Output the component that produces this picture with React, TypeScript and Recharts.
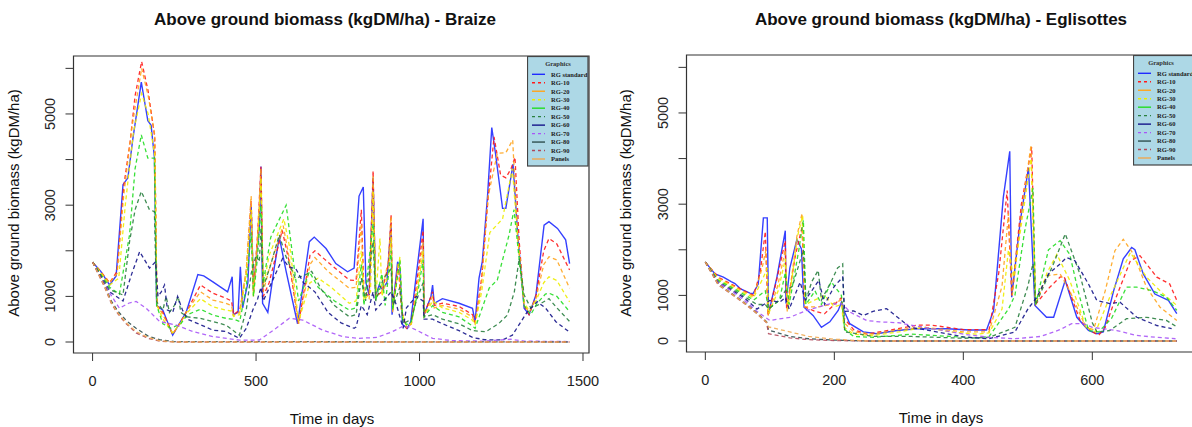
import { LineChart, Line, XAxis, YAxis, ReferenceArea } from "recharts";

type Pt = [number, number];

const seriesNames = ["RG standard", "RG-10", "RG-20", "RG-30", "RG-40", "RG-50", "RG-60", "RG-70", "RG-80", "RG-90", "Panels"];
const seriesColors = ["#1f2bff", "#ff1a1a", "#ffa41c", "#eded00", "#22dd22", "#2a8040", "#15158a", "#a855f7", "#2f4f4f", "#b0485a", "#f0a850"];
const plotDashed = [false, true, true, true, true, true, true, true, true, true, true];
const legendDashed = [false, true, false, true, false, true, false, true, false, true, false];

const braizeTicksX = [0, 500, 1000, 1500];
const egliTicksX = [0, 200, 400, 600];
const yTicks = [0, 1000, 2000, 3000, 4000, 5000, 6000];
const yLabelled = [0, 1000, 3000, 5000];

// Braize, 4 years
const braizeStd: Pt[] = [[0,1750],[25,1550],[52,1250],[72,1450],[93,3450],[108,3600],[123,4450],[149,5700],[169,4850],[179,4750],[189,4050],[196,800],[215,700],[245,150],[265,400],[286,650],[322,1480],[340,1450],[368,1320],[413,1100],[427,1430],[431,600],[445,650],[452,1650],[459,750],[475,1300],[485,3000],[492,1200],[510,2500],[515,3850],[520,850],[536,650],[555,1600],[571,2300],[592,1550],[627,400],[663,2200],[678,2300],[714,2050],[744,1720],[780,1540],[800,1620],[815,3200],[828,3400],[836,1300],[846,1030],[858,3600],[866,1030],[877,1250],[887,1150],[900,1300],[913,2600],[916,600],[933,1760],[940,1640],[948,380],[963,300],[973,450],[994,1700],[1011,2700],[1014,600],[1035,1000],[1040,1250],[1045,850],[1070,950],[1121,850],[1162,740],[1170,450],[1182,1400],[1192,1760],[1208,3200],[1221,4700],[1233,4100],[1254,2930],[1264,2930],[1286,3900],[1300,2400],[1320,740],[1335,600],[1356,1030],[1381,2560],[1396,2640],[1422,2490],[1447,2240],[1459,1720]];
const braizeRg10: Pt[] = [[0,1750],[30,1500],[52,1300],[75,1550],[95,3400],[115,4400],[130,5400],[150,6150],[170,5500],[190,4500],[197,800],[215,650],[245,170],[270,450],[290,700],[330,1250],[368,1070],[408,960],[425,900],[431,600],[450,700],[470,1500],[485,3100],[492,1100],[505,2400],[515,3850],[522,1000],[540,1300],[580,2450],[600,1800],[630,400],[665,1900],[680,2000],[720,1750],[785,1360],[806,1350],[822,2900],[830,1100],[846,1000],[858,3750],[866,1000],[885,1100],[905,1700],[913,2800],[918,700],[935,1700],[945,700],[960,300],[975,400],[995,1500],[1011,2450],[1014,600],[1040,1100],[1045,800],[1070,850],[1121,780],[1162,600],[1170,420],[1190,1400],[1208,3000],[1228,4500],[1248,3660],[1264,3600],[1280,3800],[1292,4050],[1305,2200],[1320,800],[1335,600],[1356,1000],[1380,2000],[1396,2270],[1420,2150],[1459,1580]];
const braizeRg20: Pt[] = [[0,1750],[52,1300],[75,1500],[95,3200],[120,4700],[150,6000],[170,5400],[190,4550],[197,800],[215,600],[245,180],[270,430],[290,700],[330,1100],[368,920],[408,850],[425,800],[431,580],[450,650],[470,1600],[485,3200],[492,1000],[505,2300],[515,3800],[522,1100],[540,1600],[583,2550],[600,1900],[630,400],[665,1700],[680,1850],[720,1550],[785,1180],[806,1200],[822,2600],[830,1000],[846,950],[858,3650],[866,1000],[885,1100],[905,1800],[913,2750],[918,650],[935,1750],[945,650],[960,320],[975,400],[995,1300],[1011,2200],[1014,580],[1040,1000],[1045,750],[1070,800],[1121,720],[1162,550],[1170,400],[1190,1300],[1210,3200],[1238,4140],[1264,4150],[1285,4430],[1300,2300],[1320,820],[1335,650],[1356,950],[1380,1700],[1396,1870],[1420,1800],[1459,1180]];
const braizeRg30: Pt[] = [[0,1750],[52,1250],[80,1400],[100,3000],[125,4600],[150,5450],[170,5000],[190,4100],[197,800],[215,500],[245,200],[270,420],[290,650],[330,950],[368,770],[408,700],[425,680],[431,560],[450,600],[470,1500],[485,2900],[492,1000],[505,2200],[515,3600],[522,1200],[540,1900],[585,2700],[605,2000],[630,450],[665,1300],[690,1400],[730,1200],[785,850],[806,900],[822,2000],[830,900],[850,1100],[858,3300],[866,950],[879,2270],[885,1000],[905,1500],[913,2300],[918,700],[940,1870],[948,600],[960,350],[975,400],[995,1200],[1011,2000],[1014,560],[1040,900],[1070,750],[1121,650],[1162,480],[1170,380],[1190,1100],[1215,2400],[1254,2700],[1284,3800],[1300,2300],[1320,850],[1335,700],[1356,900],[1380,1300],[1396,1430],[1420,1350],[1459,880]];
const braizeRg40: Pt[] = [[0,1750],[52,1200],[82,1050],[113,2350],[130,3800],[149,4540],[169,4030],[189,4030],[196,800],[215,400],[240,300],[270,400],[290,600],[330,720],[368,590],[408,520],[425,500],[431,500],[450,450],[470,1200],[485,2400],[492,1000],[505,1900],[515,3000],[522,1300],[545,2300],[592,3000],[610,2000],[630,900],[663,1540],[690,1200],[740,900],[785,700],[806,750],[822,1700],[830,800],[858,2600],[866,900],[885,1500],[895,800],[913,2000],[918,700],[940,1800],[948,500],[960,380],[975,450],[995,1100],[1011,1800],[1014,550],[1040,800],[1070,650],[1121,550],[1162,350],[1170,300],[1213,1180],[1238,1360],[1274,2350],[1289,2900],[1305,1800],[1320,800],[1340,600],[1360,850],[1385,1050],[1396,1070],[1420,1000],[1459,665]];
const braizeRg50: Pt[] = [[0,1750],[52,1150],[93,1030],[113,2200],[130,2900],[149,3300],[174,2900],[189,2860],[196,880],[215,700],[225,1000],[235,650],[250,800],[262,1000],[270,650],[290,550],[330,520],[368,450],[408,370],[449,150],[470,700],[485,1500],[500,1900],[510,1760],[515,2500],[522,1200],[545,1700],[571,2350],[590,1900],[620,1400],[645,1450],[670,1550],[700,1150],[740,800],[785,555],[806,600],[822,1400],[835,900],[858,2200],[866,900],[890,1400],[913,1600],[920,800],[940,1200],[950,400],[975,500],[990,900],[1011,1300],[1014,550],[1040,600],[1070,500],[1121,400],[1162,250],[1203,226],[1243,409],[1269,592],[1290,1100],[1305,1835],[1320,1031],[1340,750],[1360,800],[1396,950],[1420,750],[1459,450]];
const braizeRg60: Pt[] = [[0,1750],[52,1100],[93,900],[120,1500],[144,1980],[174,1620],[193,1760],[200,1000],[210,1100],[220,1250],[229,700],[245,650],[260,1000],[275,700],[290,500],[330,380],[368,260],[408,230],[449,80],[470,300],[490,700],[505,950],[515,1200],[522,900],[560,1500],[581,1830],[600,1650],[622,1600],[645,1300],[680,1100],[720,650],[760,420],[800,300],[806,330],[822,800],[840,600],[858,1100],[866,700],[890,900],[913,1100],[930,800],[950,300],[960,750],[990,1000],[1011,900],[1014,500],[1040,500],[1070,400],[1121,250],[1162,100],[1200,50],[1254,44],[1284,150],[1330,665],[1360,884],[1386,740],[1417,446],[1457,226]];
const braizeRg70: Pt[] = [[0,1750],[50,1100],[82,740],[110,850],[133,890],[164,740],[205,450],[256,370],[306,230],[368,120],[450,40],[510,44],[561,300],[602,520],[643,480],[704,260],[765,120],[810,80],[870,100],[918,230],[948,340],[970,330],[999,230],[1040,80],[1100,30],[1200,20],[1280,60],[1320,20],[1459,10]];
const braizeRg80: Pt[] = [[0,1750],[37,1250],[57,900],[77,680],[103,470],[133,300],[170,130],[205,50],[250,10],[1459,0]];
const braizeRg90: Pt[] = [[0,1750],[37,1200],[57,850],[77,620],[103,400],[133,200],[170,80],[205,20],[250,0],[1459,0]];
const braizePanels: Pt[] = [[0,1750],[37,1220],[57,870],[77,640],[103,420],[133,230],[170,100],[205,30],[250,0],[1459,0]];

// Eglisottes, 2 years
const egliStd: Pt[] = [[0,1730],[15,1470],[28,1400],[40,1300],[46,1260],[54,1150],[69,1050],[74,1040],[82,1250],[90,2700],[96,2700],[98,600],[111,1400],[124,2420],[125,820],[131,1600],[142,2230],[149,2020],[153,740],[167,560],[180,300],[193,420],[206,670],[211,850],[214,700],[224,380],[245,200],[266,160],[297,230],[328,270],[375,270],[410,240],[436,240],[447,670],[462,3150],[472,4160],[475,960],[488,2600],[501,3800],[511,780],[529,520],[540,520],[558,1330],[576,520],[594,230],[607,160],[617,200],[633,1100],[648,1800],[661,2050],[666,2000],[679,1470],[697,1030],[718,890],[731,600]];
const egliRg10: Pt[] = [[0,1730],[20,1400],[40,1250],[60,1100],[75,1000],[85,1500],[93,2400],[97,550],[110,1300],[124,2200],[126,700],[140,1900],[150,2500],[154,750],[170,650],[185,600],[200,800],[211,950],[215,500],[230,250],[250,150],[290,250],[330,350],[350,350],[400,250],[440,250],[455,1500],[468,3300],[475,1000],[490,3000],[506,4250],[512,800],[521,960],[534,1180],[550,1400],[556,1420],[581,450],[600,200],[610,130],[620,300],[633,816],[659,1760],[674,1870],[700,1400],[720,1250],[731,890]];
const egliRg20: Pt[] = [[0,1730],[20,1380],[40,1230],[60,1080],[75,980],[88,1600],[94,2000],[97,550],[112,1200],[124,2000],[127,650],[142,2300],[150,2800],[154,750],[175,750],[195,800],[211,900],[215,400],[230,200],[260,150],[300,250],[340,300],[400,200],[440,200],[460,1200],[470,2800],[476,1000],[492,3000],[505,4300],[512,800],[529,1430],[550,1470],[565,1100],[590,300],[602,250],[620,1100],[635,1980],[648,2230],[664,1900],[684,1180],[705,740],[731,450]];
const egliRg30: Pt[] = [[0,1730],[20,1350],[40,1200],[60,1050],[75,950],[90,1400],[96,1600],[98,600],[113,1100],[124,1800],[128,700],[143,2300],[151,2750],[155,800],[170,900],[185,1000],[200,750],[211,800],[215,300],[230,150],[260,120],[300,200],[340,300],[380,200],[420,150],[440,180],[460,700],[470,2000],[478,1400],[505,4000],[512,800],[530,1500],[545,1900],[565,1330],[590,310],[605,200],[627,960],[659,1940],[684,1400],[710,1030],[731,780]];
const egliRg40: Pt[] = [[0,1730],[20,1330],[40,1180],[60,1020],[75,900],[93,1100],[98,700],[115,900],[124,1500],[130,800],[145,2000],[152,2650],[156,800],[170,1100],[180,800],[195,1300],[211,1000],[216,250],[230,100],[260,80],[320,150],[380,100],[420,70],[440,100],[470,700],[480,1000],[495,2400],[508,3350],[512,800],[532,2000],[550,2200],[565,1900],[578,1100],[594,230],[610,200],[630,500],[653,1180],[669,1180],[694,1100],[715,960],[731,670]];
const egliRg50: Pt[] = [[0,1730],[20,1300],[40,1150],[60,980],[80,800],[93,800],[98,700],[115,900],[124,1100],[135,1200],[152,2000],[156,900],[165,1300],[175,1550],[180,900],[195,1300],[205,1600],[213,1690],[216,200],[240,150],[260,100],[320,100],[400,60],[440,80],[480,300],[500,1200],[508,1700],[512,800],[540,1700],[558,2350],[580,1500],[600,400],[607,200],[627,230],[653,490],[684,520],[715,450],[731,310]];
const egliRg60: Pt[] = [[0,1730],[20,1280],[40,1120],[60,950],[80,700],[100,890],[115,850],[124,950],[130,700],[147,1290],[155,900],[165,1100],[176,1330],[185,800],[200,1200],[213,1400],[216,650],[230,660],[245,560],[260,650],[281,710],[300,500],[317,300],[348,230],[400,90],[440,50],[480,200],[500,700],[514,960],[532,1470],[550,1690],[560,1830],[573,1760],[594,1250],[607,890],[627,820],[643,850],[669,520],[700,340],[723,270]];
const egliRg70: Pt[] = [[0,1730],[20,1280],[40,1100],[60,900],[80,650],[100,450],[131,520],[157,670],[193,816],[212,816],[225,630],[250,450],[270,420],[300,400],[330,320],[370,230],[400,150],[440,80],[480,50],[520,100],[550,250],[568,380],[586,380],[600,300],[638,230],[668,124],[700,80],[729,50]];
const egliRg80: Pt[] = [[0,1730],[20,1250],[40,1050],[60,850],[80,620],[95,420],[98,240],[131,100],[160,50],[200,20],[250,0],[731,0]];
const egliRg90: Pt[] = [[0,1730],[20,1230],[40,1030],[60,830],[80,600],[95,400],[98,160],[131,70],[160,30],[200,10],[250,0],[731,0]];
const egliPanels: Pt[] = [[0,1730],[20,1240],[40,1040],[60,840],[80,610],[95,410],[98,310],[131,200],[160,100],[200,40],[250,0],[731,0]];

const braizeSeries = [braizeStd, braizeRg10, braizeRg20, braizeRg30, braizeRg40, braizeRg50, braizeRg60, braizeRg70, braizeRg80, braizeRg90, braizePanels];
const egliSeries = [egliStd, egliRg10, egliRg20, egliRg30, egliRg40, egliRg50, egliRg60, egliRg70, egliRg80, egliRg90, egliPanels];

const Y_DOMAIN: [number, number] = [-241, 6271];
const SANS = "'Liberation Sans', Arial, sans-serif";
const SERIF = "'Liberation Serif', 'Times New Roman', serif";
const AXIS_COL = "#333";

const XTick = (props: any) => (
  <text x={props.x} y={props.y + 25} textAnchor="middle" fontSize={14.5} fontFamily={SANS} fill="#222">
    {props.payload.value}
  </text>
);

const YTick = (props: any) => {
  if (!yLabelled.includes(props.payload.value)) return <g />;
  const bx = props.x - 10;
  return (
    <text x={bx} y={props.y} transform={`rotate(-90 ${bx} ${props.y})`} textAnchor="middle" fontSize={14.5} fontFamily={SANS} fill="#222">
      {props.payload.value}
    </text>
  );
};

interface PanelProps {
  left: number;
  width: number;
  plotLeft: number;
  plotRight: number;
  top: number;
  bottom: number;
  xDomain: [number, number];
  xTicks: number[];
  series: Pt[][];
}

function Panel({ left, width, plotLeft, plotRight, top, bottom, xDomain, xTicks, series }: PanelProps) {
  const H = 427;
  const yAxisW = 40;
  const xAxisH = 30;
  return (
    <div style={{ position: "absolute", left, top: 0, width, height: H }}>
      <LineChart
        width={width}
        height={H}
        margin={{ top, right: width - plotRight, bottom: H - bottom - xAxisH, left: plotLeft - yAxisW }}
      >
        <XAxis
          type="number"
          dataKey="d"
          domain={xDomain}
          ticks={xTicks}
          interval={0}
          allowDataOverflow
          height={xAxisH}
          axisLine={false}
          tickLine={{ stroke: AXIS_COL }}
          tickSize={8}
          tickMargin={0}
          tick={XTick}
        />
        <YAxis
          type="number"
          domain={Y_DOMAIN}
          ticks={yTicks}
          interval={0}
          allowDataOverflow
          width={yAxisW}
          axisLine={false}
          tickLine={{ stroke: AXIS_COL }}
          tickSize={8}
          tickMargin={0}
          tick={YTick}
        />
        <ReferenceArea
          x1={xDomain[0]}
          x2={xDomain[1]}
          y1={Y_DOMAIN[0]}
          y2={Y_DOMAIN[1]}
          fill="none"
          stroke={AXIS_COL}
          strokeWidth={1.2}
          ifOverflow="visible"
        />
        {series.map((pts, i) => (
          <Line
            key={seriesNames[i]}
            name={seriesNames[i]}
            data={pts.map(([d, v]) => ({ d, v }))}
            dataKey="v"
            type="linear"
            stroke={seriesColors[i]}
            strokeWidth={i === 0 ? 1.4 : 1.3}
            strokeOpacity={0.9}
            strokeDasharray={plotDashed[i] ? "4 3" : undefined}
            dot={false}
            activeDot={false}
            isAnimationActive={false}
          />
        ))}
      </LineChart>
    </div>
  );
}

function LegendBox({ left, top, titleX }: { left: number; top: number; titleX: number }) {
  const w = 62;
  const h = 111;
  return (
    <svg style={{ position: "absolute", left, top }} width={w} height={h}>
      <rect x={0.5} y={0.5} width={w - 1.5} height={h - 1.5} fill="#add8e6" stroke="#444" strokeWidth={1.2} />
      <text x={titleX} y={10} textAnchor="middle" fontSize={6.5} fontWeight="bold" fontFamily={SERIF} fill="#333">
        Graphics
      </text>
      {seriesNames.map((n, i) => {
        const cy = 18.3 + i * 8.47;
        return (
          <g key={n}>
            <line
              x1={5}
              x2={18}
              y1={cy}
              y2={cy}
              stroke={seriesColors[i]}
              strokeWidth={1.4}
              strokeDasharray={legendDashed[i] ? "3 3" : undefined}
            />
            <text x={24} y={cy + 2.3} fontSize={6.5} fontWeight="bold" fontFamily={SERIF} fill="#222">
              {n}
            </text>
          </g>
        );
      })}
    </svg>
  );
}

const titleStyle: React.CSSProperties = {
  position: "absolute",
  top: 10,
  transform: "translateX(-50%)",
  whiteSpace: "nowrap",
  fontFamily: SANS,
  fontWeight: "bold",
  fontSize: 17,
  lineHeight: "20px",
  color: "#111",
};

const axisTitleStyle: React.CSSProperties = {
  position: "absolute",
  whiteSpace: "nowrap",
  fontFamily: SANS,
  fontSize: 15,
  lineHeight: "18px",
  color: "#111",
};

export default function App() {
  return (
    <div style={{ position: "fixed", left: 0, top: 0, width: 1192, height: 427, overflow: "hidden", background: "#fff" }}>
      <Panel
        left={0}
        width={600}
        plotLeft={73.5}
        plotRight={589}
        top={56}
        bottom={353}
        xDomain={[-58.4, 1518.4]}
        xTicks={braizeTicksX}
        series={braizeSeries}
      />
      <Panel
        left={600}
        width={620}
        plotLeft={86.5}
        plotRight={595}
        top={55}
        bottom={352}
        xDomain={[-29.2, 759.2]}
        xTicks={egliTicksX}
        series={egliSeries}
      />
      <LegendBox left={527} top={56} titleX={31} />
      <LegendBox left={1133} top={55} titleX={28} />

      <div style={{ ...titleStyle, left: 325 }}>Above ground biomass (kgDM/ha) - Braize</div>
      <div style={{ ...titleStyle, left: 941 }}>Above ground biomass (kgDM/ha) - Eglisottes</div>

      <div style={{ ...axisTitleStyle, left: 14, top: 203, transform: "translate(-50%, -50%) rotate(-90deg)" }}>
        Above ground biomass (kgDM/ha)
      </div>
      <div style={{ ...axisTitleStyle, left: 626, top: 203, transform: "translate(-50%, -50%) rotate(-90deg)" }}>
        Above ground biomass (kgDM/ha)
      </div>
      <div style={{ ...axisTitleStyle, left: 332, top: 419, transform: "translate(-50%, -50%)" }}>Time in days</div>
      <div style={{ ...axisTitleStyle, left: 941, top: 418, transform: "translate(-50%, -50%)" }}>Time in days</div>
    </div>
  );
}
